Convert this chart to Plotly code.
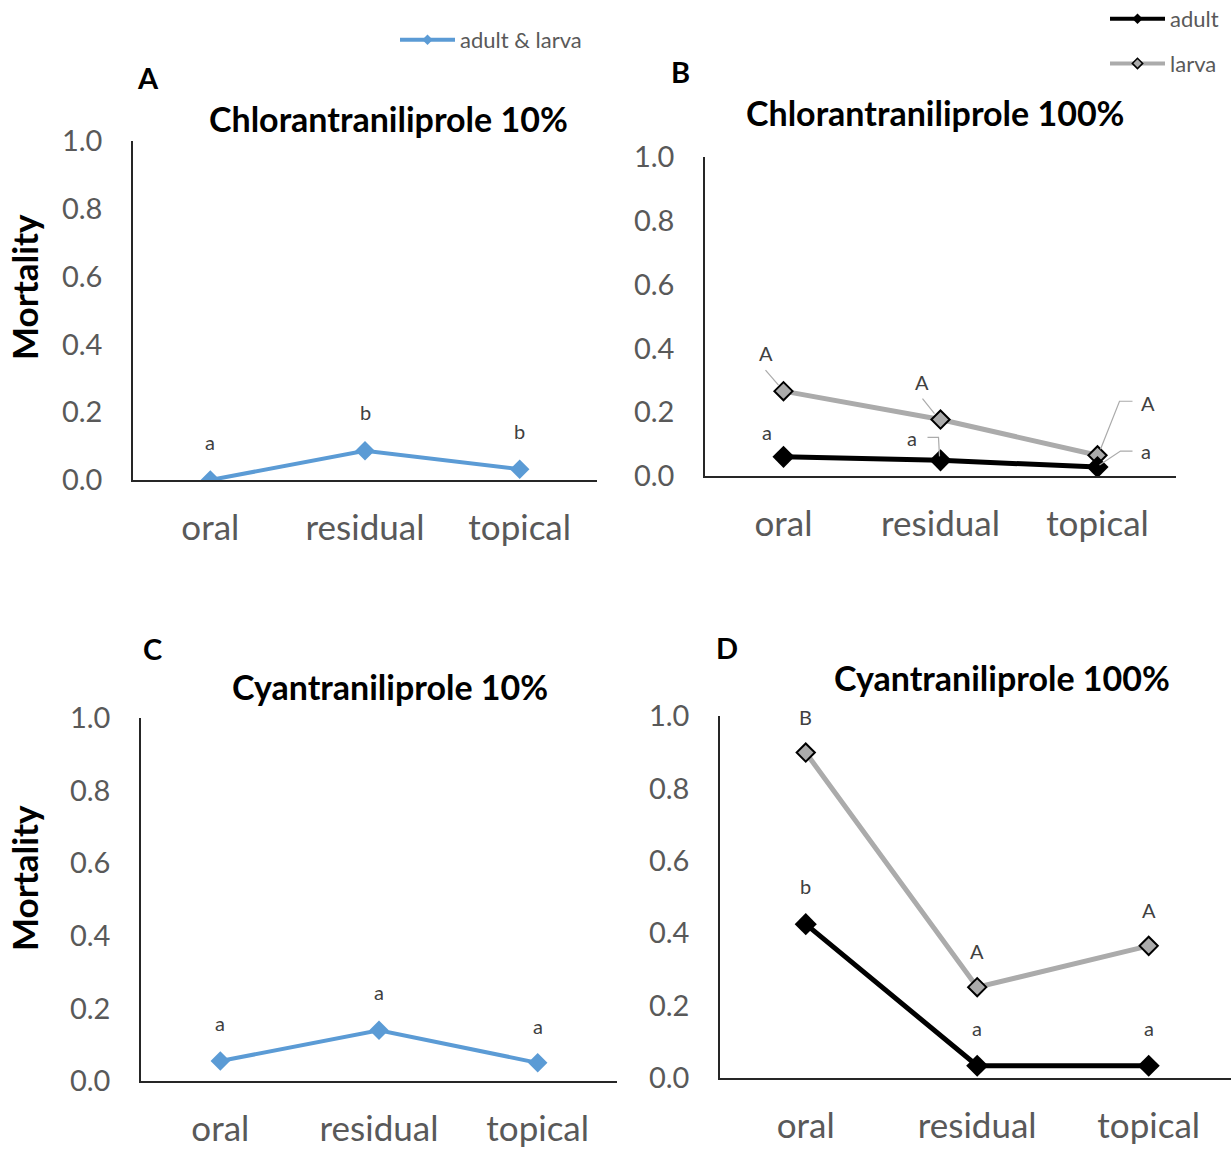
import plotly.graph_objects as go

W, H = 1231, 1149

categories = ["oral", "residual", "topical"]
yticks = [0.0, 0.2, 0.4, 0.6, 0.8, 1.0]

chlor10 = [0.0, 0.086, 0.032]
chlor10_labels = ["a", "b", "b"]

chlor100_adult = [0.060, 0.049, 0.028]
chlor100_larva = [0.266, 0.177, 0.065]
chlor100_adult_labels = ["a", "a", "a"]
chlor100_larva_labels = ["A", "A", "A"]

cyan10 = [0.055, 0.140, 0.050]
cyan10_labels = ["a", "a", "a"]

cyan100_adult = [0.425, 0.034, 0.034]
cyan100_larva = [0.899, 0.251, 0.365]
cyan100_adult_labels = ["b", "a", "a"]
cyan100_larva_labels = ["B", "A", "A"]

titles = ["Chlorantraniliprole 10%", "Chlorantraniliprole 100%",
          "Cyantraniliprole 10%", "Cyantraniliprole 100%"]
letters = ["A", "B", "C", "D"]

FONT = "Lato"
BLUE = "#5B9BD5"
GRAY = "#ABABAB"
TXT = "#595959"
LBL = "#404040"

def px(x):
    return x / W

def py(y):
    return 1 - y / H

# panel boxes in pixels: (x_left, x_right, y_top(1.0), y_bottom(0.0))
boxes = {
    1: (133, 597, 141, 480),
    2: (705, 1176, 157, 476),
    3: (141, 617, 718, 1081),
    4: (720, 1231, 716, 1078),
}
x_ranges = {1: [-0.5, 2.5], 2: [-0.5, 2.5], 3: [-0.5, 2.5], 4: [-0.5, 2.48]}

fig = go.Figure()

def add_line(i, y, color, lw, msize, mfill, mline):
    fig.add_trace(go.Scatter(
        x=categories, y=y, mode="lines+markers",
        line=dict(color=color, width=lw),
        marker=dict(symbol="diamond", size=msize, color=mfill,
                    line=dict(color=mline, width=2 if mline != mfill else 0)),
        xaxis="x" if i == 1 else f"x{i}", yaxis="y" if i == 1 else f"y{i}",
        showlegend=False, hoverinfo="skip"))

add_line(1, chlor10, BLUE, 4, 15, BLUE, BLUE)
add_line(2, chlor100_larva, GRAY, 5, 14, GRAY, "#000000")
add_line(2, chlor100_adult, "#000000", 5, 17, "#000000", "#000000")
add_line(3, cyan10, BLUE, 4, 15, BLUE, BLUE)
add_line(4, cyan100_larva, GRAY, 5, 14, GRAY, "#000000")
add_line(4, cyan100_adult, "#000000", 5, 17, "#000000", "#000000")

# legend-only traces
fig.add_trace(go.Scatter(x=[None], y=[None], mode="lines+markers", name="adult & larva",
                         line=dict(color=BLUE, width=4),
                         marker=dict(symbol="diamond", size=8, color=BLUE), legend="legend"))
fig.add_trace(go.Scatter(x=[None], y=[None], mode="lines+markers", name="adult",
                         legendgroup="adult",
                         line=dict(color="#000000", width=4),
                         marker=dict(symbol="diamond", size=8, color="#000000"), legend="legend2"))
fig.add_trace(go.Scatter(x=[None], y=[None], mode="lines+markers", name="larva",
                         legendgroup="larva",
                         line=dict(color=GRAY, width=4),
                         marker=dict(symbol="diamond", size=8, color=GRAY,
                                     line=dict(color="#000000", width=1.5)), legend="legend2"))

layout = dict(
    width=W, height=H, autosize=False,
    margin=dict(l=0, r=0, t=0, b=0, autoexpand=False),
    paper_bgcolor="white", plot_bgcolor="white",
    font=dict(family=FONT, color=TXT),
    legend=dict(x=px(395), y=py(19), xanchor="left", yanchor="top",
                font=dict(size=22, color=TXT, family=FONT), bgcolor="rgba(0,0,0,0)",
                itemwidth=55),
    legend2=dict(x=px(1105), y=py(-2), xanchor="left", yanchor="top",
                 font=dict(size=22, color=TXT, family=FONT), bgcolor="rgba(0,0,0,0)",
                 itemwidth=55, traceorder="grouped", tracegroupgap=13),
)

for i, (xl, xr, yt, yb) in boxes.items():
    xs = "xaxis" if i == 1 else f"xaxis{i}"
    ys = "yaxis" if i == 1 else f"yaxis{i}"
    layout[xs] = dict(
        domain=[px(xl), px(xr)], anchor="y" if i == 1 else f"y{i}",
        type="category", range=x_ranges[i],
        showline=True, linecolor="#262626", linewidth=1.5,
        showgrid=False, zeroline=False,
        ticks="outside", ticklen=16, tickcolor="rgba(0,0,0,0)",
        tickfont=dict(size=35, color=TXT, family=FONT),
        fixedrange=True)
    layout[ys] = dict(
        domain=[py(yb), py(yt)], anchor="x" if i == 1 else f"x{i}",
        range=[0, 1], tickvals=yticks, tickformat=".1f",
        showline=True, linecolor="#262626", linewidth=1.5,
        showgrid=False, zeroline=False,
        ticks="outside", ticklen=23, tickcolor="rgba(0,0,0,0)",
        tickfont=dict(size=29, color=TXT, family=FONT),
        fixedrange=True)

fig.update_layout(**layout)

ann = []
# titles and letters
title_pos = [(388, 118), (935, 112), (390, 686), (1002, 678)]
letter_pos = [(148, 77), (680, 71), (152, 648), (727, 647)]
for t, (tx, ty) in zip(titles, title_pos):
    ann.append(dict(text=f"<b>{t}</b>", x=px(tx), y=py(ty), xref="paper", yref="paper",
                    showarrow=False, font=dict(size=34, color="#000000", family=FONT),
                    xanchor="center", yanchor="middle"))
for t, (tx, ty) in zip(letters, letter_pos):
    ann.append(dict(text=f"<b>{t}</b>", x=px(tx), y=py(ty), xref="paper", yref="paper",
                    showarrow=False, font=dict(size=29, color="#000000", family=FONT),
                    xanchor="center", yanchor="middle"))
for yy in (287, 878):
    ann.append(dict(text="<b>Mortality</b>", x=px(24), y=py(yy), xref="paper", yref="paper",
                    showarrow=False, textangle=-90, font=dict(size=35, color="#000000", family=FONT),
                    xanchor="center", yanchor="middle"))

def labels(i, ys, labs, shifts):
    xr = "x" if i == 1 else f"x{i}"
    yr = "y" if i == 1 else f"y{i}"
    for c, v, l, (dx, dy) in zip(categories, ys, labs, shifts):
        ann.append(dict(text=l, x=c, y=v, xref=xr, yref=yr, showarrow=False,
                        xshift=dx, yshift=dy, font=dict(size=20, color=LBL, family=FONT),
                        xanchor="center", yanchor="middle"))

labels(1, chlor10, chlor10_labels, [(0, 38), (0, 39), (0, 38)])
labels(3, cyan10, cyan10_labels, [(0, 38), (0, 38), (0, 37)])
labels(4, cyan100_larva, cyan100_larva_labels, [(0, 36), (0, 36), (0, 36)])
labels(4, cyan100_adult, cyan100_adult_labels, [(0, 38), (0, 38), (0, 38)])
labels(2, chlor100_larva, chlor100_larva_labels, [(-18, 38), (-19, 38), (50, 52)])
labels(2, chlor100_adult, chlor100_adult_labels, [(-17, 25), (-29, 22), (48, 16)])

fig.update_layout(annotations=ann)

# leader lines in panel B (pixel offsets relative to the data point)
def leader(c, v, path):
    fig.add_shape(type="path", xref="x2", yref="y2", xsizemode="pixel", ysizemode="pixel",
                  xanchor=c, yanchor=v, path=path,
                  line=dict(color=GRAY, width=1.2))

leader(categories[0], chlor100_larva[0], "M -18,21 L -5,6")
leader(categories[1], chlor100_larva[1], "M -18,21 L -6,6")
leader(categories[2], chlor100_larva[2], "M 35,54 L 22,54 L 3,6")
leader(categories[1], chlor100_adult[1], "M -13,23 L -2,23 L -1,4")
leader(categories[2], chlor100_adult[2], "M 35,16 L 23,16 L 2,2")

fig.write_html("out.html")
